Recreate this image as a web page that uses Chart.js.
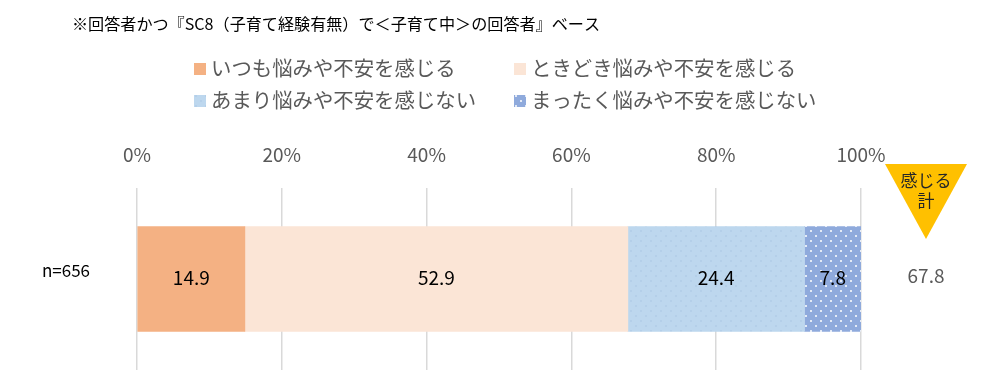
<!DOCTYPE html>
<html>
<head>
<meta charset="utf-8">
<script src="https://cdn.jsdelivr.net/npm/chart.js@4"></script>
<style>
  html, body { margin: 0; padding: 0; background: #fff; }
  #wrap { width: 1002px; height: 387px; position: relative; }
  canvas { display: block; }
</style>
</head>
<body>
<div id="wrap"><canvas id="chart" width="1002" height="387"></canvas></div>
<script>
const FONT = "'Noto Sans CJK JP', 'Noto Sans', sans-serif";

const note = "※回答者かつ『SC8（子育て経験有無）で＜子育て中＞の回答者』ベース";
const categories = ["n=656"];
const seriesNames = [
    "いつも悩みや不安を感じる",
    "ときどき悩みや不安を感じる",
    "あまり悩みや不安を感じない",
    "まったく悩みや不安を感じない",
];
const always = [14.9];
const sometimes = [52.9];
const rarely = [24.4];
const never = [7.8];
const feelTotal = [67.8];
const tickValues = [0, 20, 40, 60, 80, 100];

// dotted fills for the two "don't feel" segments
function dots(bg, dot, step, r) {
    const c = document.createElement("canvas");
    c.width = step; c.height = step;
    const g = c.getContext("2d");
    g.fillStyle = bg;
    g.fillRect(0, 0, step, step);
    g.fillStyle = dot;
    g.beginPath(); g.arc(1, 1, r, 0, Math.PI * 2); g.fill();
    g.beginPath(); g.arc(1 + step / 2, 1 + step / 2, r, 0, Math.PI * 2); g.fill();
    return g.createPattern(c, "repeat");
}

const ctx = document.getElementById("chart");
const swatch = ["#F4B183", "#FBE5D6", "#BDD7EE", "#8FAADC"];
const fills = [
    swatch[0],
    swatch[1],
    dots("#BDD7EE", "#A9C6E3", 10, 0.8),
    dots("#8FAADC", "#FFFFFF", 10, 1),
];

const decor = {
    id: "decor",
    afterDraw(chart) {
        const g = chart.ctx;
        const area = chart.chartArea;
        g.save();
        // note line
        g.fillStyle = "#000";
        g.font = "16px " + FONT;
        g.textBaseline = "middle";
        g.textAlign = "left";
        const w = g.measureText(note).width;
        g.save();
        g.translate(72, 24);
        g.scale(528 / w, 1);
        g.fillText(note, 0, 0);
        g.restore();

        // legend
        const pos = [[194, 68], [514, 68], [194, 100], [514, 100]];
        g.font = "20.4px " + FONT;
        seriesNames.forEach((name, i) => {
            const [x, y] = pos[i];
            g.fillStyle = fills[i];
            g.fillRect(x, y - 5, 12, 12);
            g.fillStyle = "#595959";
            g.fillText(name, x + 17, y);
        });

        // value labels in the segments
        g.font = "19px " + FONT;
        g.textAlign = "center";
        g.fillStyle = "#000";
        chart.data.datasets.forEach((ds, di) => {
            chart.getDatasetMeta(di).data.forEach((bar, j) => {
                const p = bar.getProps(["x", "y", "base"], true);
                g.fillText(ds.data[j].toFixed(1), (p.x + p.base) / 2, p.y - 1);
            });
        });

        // "感じる計" marker and total
        const cx = area.right + 65;
        g.fillStyle = "#FFC000";
        g.beginPath();
        g.moveTo(cx - 41, 164);
        g.lineTo(cx + 41, 164);
        g.lineTo(cx, 239);
        g.closePath();
        g.fill();
        g.fillStyle = "#262626";
        g.font = "17px " + FONT;
        g.fillText("感じる", cx, 181);
        g.fillText("計", cx, 201);

        const y0 = chart.getDatasetMeta(0).data[0].y;
        g.fillStyle = "#595959";
        g.font = "19px " + FONT;
        feelTotal.forEach(t => g.fillText(t.toFixed(1), cx, y0 - 3));
        g.restore();
    }
};

new Chart(ctx, {
    type: "bar",
    data: {
        labels: categories,
        datasets: [always, sometimes, rarely, never].map((d, i) => ({
            label: seriesNames[i],
            data: d,
            backgroundColor: fills[i],
            borderWidth: 0,
            barThickness: 105,
        })),
    },
    options: {
        indexAxis: "y",
        responsive: false,
        animation: false,
        layout: { padding: { top: 141, right: 141, bottom: 17, left: 0 } },
        plugins: { legend: { display: false }, tooltip: { enabled: false } },
        scales: {
            x: {
                position: "top",
                stacked: true,
                min: 0,
                max: 100,
                afterBuildTicks: s => { s.ticks = tickValues.map(v => ({ value: v })); },
                afterFit: s => { s.height = 47; },
                ticks: {
                    callback: v => v + "%",
                    color: "#595959",
                    font: { family: FONT, size: 19 },
                    padding: 22,
                },
                grid: { color: "#D9D9D9", lineWidth: 1.5, drawTicks: false },
                border: { display: false },
            },
            y: {
                stacked: true,
                afterFit: s => { s.width = 137; s.paddingTop = 0; s.paddingBottom = 0; },
                ticks: {
                    color: "#000",
                    font: { family: FONT, size: 17 },
                    padding: 47,
                    labelOffset: -8,
                },
                grid: { display: false, drawTicks: false },
                border: { display: false },
            },
        },
    },
    plugins: [decor],
});
</script>
</body>
</html>
